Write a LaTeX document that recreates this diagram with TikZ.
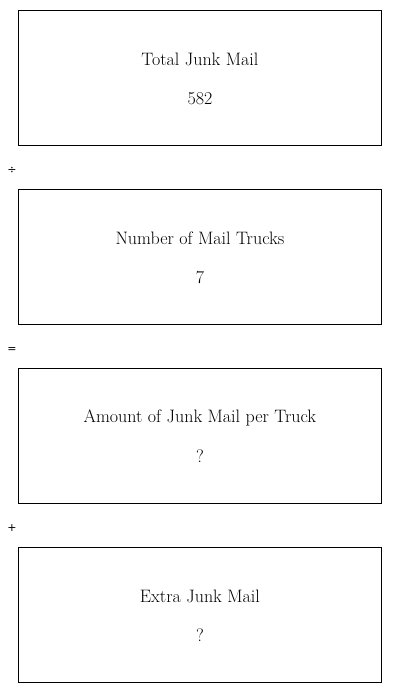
\documentclass[tikz,border=0pt]{standalone}
\usepackage{fontspec}
\newfontfamily\opfont{DejaVu Sans}
\begin{document}
\begin{tikzpicture}[x=1pt,y=-1pt,
  box/.style={draw,line width=0.8pt,minimum width=363pt,minimum height=135pt,inner sep=0pt,anchor=north west},
  lbl/.style={font=\fontsize{18}{21}\selectfont,inner sep=0pt},
  op/.style={font=\opfont\fontsize{11}{13}\selectfont,inner sep=0pt}]
\useasboundingbox (0,0) rectangle (400,693);
\node[box] (b1) at (18,10) {};
\node[box] (b2) at (18,189) {};
\node[box] (b3) at (18,368) {};
\node[box] (b4) at (18,547) {};
\node[lbl] (t1) at ([yshift=18.5pt]b1.center) {Total Junk Mail};
\node[lbl] (v1) at ([yshift=-20.5pt]b1.center) {582};
\node[lbl] (t2) at ([yshift=18.5pt]b2.center) {Number of Mail Trucks};
\node[lbl] (v2) at ([yshift=-20.5pt]b2.center) {7};
\node[lbl] (t3) at ([yshift=18.5pt]b3.center) {Amount of Junk Mail per Truck};
\node[lbl] (v3) at ([yshift=-20.5pt]b3.center) {?};
\node[lbl] (t4) at ([yshift=18.5pt]b4.center) {Extra Junk Mail};
\node[lbl] (v4) at ([yshift=-20.5pt]b4.center) {?};
\node[op] (o1) at (12,170) {÷};
\node[op] (o2) at (12,349.5) {=};
\node[op] (o3) at (12,528) {+};
\end{tikzpicture}
\end{document}
